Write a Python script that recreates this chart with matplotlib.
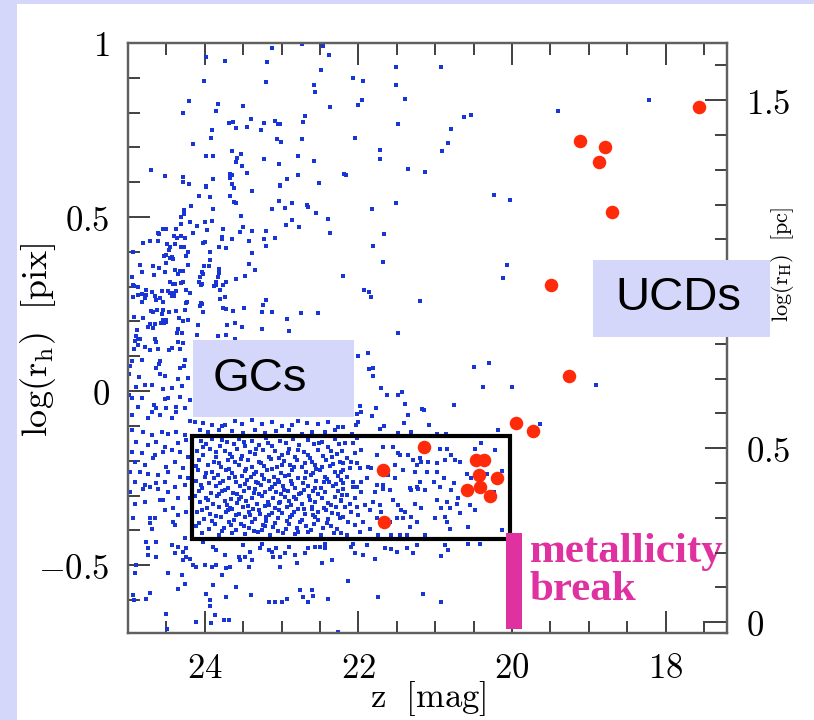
import matplotlib
matplotlib.use("Agg")
import matplotlib.pyplot as plt
from matplotlib.patches import Rectangle
import numpy as np

plt.rcParams['mathtext.fontset'] = 'cm'

# ---------------- data (z [mag], log r_h [pix]) ----------------
blue_upper_left = [
    (23.98, 0.961), (23.74, 0.949), (23.12, 0.986), (22.73, 0.996), (22.46, 0.991), (22.38, 0.965),
    (23.19, 0.945), (24.01, 0.892), (23.20, 0.888), (22.49, 0.923), (22.58, 0.879), (22.56, 0.859),
    (24.20, 0.833), (23.83, 0.825), (23.50, 0.820), (24.29, 0.799), (23.85, 0.804), (22.37, 0.817),
    (22.70, 0.791), (22.72, 0.773), (23.40, 0.781), (23.68, 0.769), (23.63, 0.772), (23.60, 0.757),
    (23.45, 0.758), (23.23, 0.770), (23.27, 0.750), (23.08, 0.776), (23.05, 0.768), (23.02, 0.768),
    (23.90, 0.750), (23.92, 0.726), (24.16, 0.710), (23.06, 0.723), (23.01, 0.716), (22.74, 0.724),
    (23.64, 0.690), (23.53, 0.681), (23.99, 0.675), (23.89, 0.674), (23.58, 0.669), (23.59, 0.658),
    (23.23, 0.667), (22.78, 0.675), (22.58, 0.662), (23.51, 0.647), (23.03, 0.653), (24.70, 0.634),
    (24.52, 0.618), (24.28, 0.615), (24.29, 0.600), (24.20, 0.594), (23.98, 0.588), (23.89, 0.608),
    (23.67, 0.623), (23.65, 0.622), (23.67, 0.612), (23.45, 0.626), (23.64, 0.594), (23.62, 0.584),
    (22.93, 0.609), (22.78, 0.620), (23.02, 0.591), (22.51, 0.597), (22.19, 0.624),
]

blue_upper_right = [
    (21.51, 0.931), (20.93, 0.930), (22.07, 0.900), (21.94, 0.891), (21.51, 0.879), (21.95, 0.835),
    (22.01, 0.821), (21.39, 0.839), (20.62, 0.788), (20.53, 0.793), (19.40, 0.804), (21.49, 0.767),
    (20.80, 0.753), (22.05, 0.726), (20.83, 0.713), (20.91, 0.689), (21.72, 0.693), (21.72, 0.668),
    (21.36, 0.637), (21.13, 0.630), (22.16, 0.622), (18.21, 0.836),
    (21.51, 0.541), (21.82, 0.524), (20.24, 0.564), (20.03, 0.550), (21.67, 0.451), (21.81, 0.417),
    (21.68, 0.372), (22.20, 0.331), (20.06, 0.361), (20.12, 0.325), (21.93, 0.291), (21.86, 0.284),
    (21.84, 0.269), (21.20, 0.260), (21.49, 0.167), (18.90, 0.017), (18.80, -0.463),
]

blue_middle_left = [
    (23.98, 0.586), (23.62, 0.583), (23.02, 0.590), (23.38, 0.576), (24.08, 0.560), (23.93, 0.559),
    (23.67, 0.560), (23.62, 0.542), (23.59, 0.540), (23.04, 0.545), (22.86, 0.540), (22.67, 0.536),
    (22.66, 0.530), (24.18, 0.532), (24.27, 0.521), (23.89, 0.524), (23.12, 0.524), (22.95, 0.527),
    (22.55, 0.511), (24.27, 0.508), (24.31, 0.501), (23.53, 0.503), (22.40, 0.493), (22.87, 0.491),
    (22.94, 0.477), (22.77, 0.471), (22.37, 0.453), (24.19, 0.485), (24.31, 0.481), (24.00, 0.485),
    (23.90, 0.490), (24.10, 0.474), (23.50, 0.472), (24.55, 0.465), (24.50, 0.465), (24.61, 0.455),
    (24.59, 0.450), (24.38, 0.467), (23.97, 0.462), (23.76, 0.467), (23.54, 0.457), (23.39, 0.459),
    (23.20, 0.459), (24.40, 0.446), (24.36, 0.439), (24.31, 0.446), (24.26, 0.439), (24.15, 0.453),
    (23.78, 0.444), (23.77, 0.437), (23.64, 0.438), (23.23, 0.436), (23.08, 0.441), (24.81, 0.425),
    (24.71, 0.430), (24.61, 0.432), (24.49, 0.423), (24.02, 0.425), (24.00, 0.428), (23.42, 0.430),
    (23.20, 0.417), (24.31, 0.413), (24.27, 0.413), (24.45, 0.415), (24.39, 0.423), (23.82, 0.415),
    (23.73, 0.412), (24.94, 0.401), (24.46, 0.404), (24.22, 0.399), (23.93, 0.400), (23.38, 0.396),
    (24.53, 0.389), (24.50, 0.391), (24.24, 0.389), (24.45, 0.383), (24.42, 0.379), (24.43, 0.385),
    (23.93, 0.376), (23.43, 0.366), (24.50, 0.367), (24.84, 0.361), (24.68, 0.359), (24.59, 0.354),
    (24.22, 0.361), (24.01, 0.358), (23.95, 0.358), (23.81, 0.350), (23.35, 0.348), (24.82, 0.341),
    (24.52, 0.343), (24.39, 0.347), (24.32, 0.345), (24.29, 0.345), (24.35, 0.335), (24.66, 0.333),
    (24.04, 0.341), (24.02, 0.336), (23.82, 0.340), (24.95, 0.328), (24.06, 0.328), (23.83, 0.328),
    (23.47, 0.331), (22.20, 0.330), (24.45, 0.313), (24.41, 0.308), (24.39, 0.308), (24.31, 0.310),
    (24.29, 0.312), (24.07, 0.314), (24.03, 0.308), (24.05, 0.304), (23.85, 0.313), (23.86, 0.305),
    (23.88, 0.303), (23.76, 0.305), (23.73, 0.313), (23.60, 0.322), (24.94, 0.306), (24.92, 0.303),
    (24.87, 0.300), (24.77, 0.290), (24.69, 0.286), (24.77, 0.275), (24.56, 0.287), (24.48, 0.287),
    (24.45, 0.281), (24.40, 0.281), (24.43, 0.273), (24.38, 0.287), (24.40, 0.272), (24.25, 0.290),
    (24.19, 0.281), (23.80, 0.290), (24.93, 0.271), (24.87, 0.276), (24.82, 0.279), (24.65, 0.273),
    (24.63, 0.262), (24.58, 0.266), (24.55, 0.255), (24.23, 0.255), (24.25, 0.252), (24.05, 0.254),
    (24.03, 0.250), (24.06, 0.245), (23.80, 0.264), (23.74, 0.270), (23.20, 0.262), (24.82, 0.255),
    (24.78, 0.268), (24.02, 0.227), (23.76, 0.239), (23.73, 0.236), (23.63, 0.231), (23.49, 0.238),
    (23.24, 0.247), (23.25, 0.227), (23.13, 0.227), (22.75, 0.224), (22.53, 0.224), (24.70, 0.230),
    (24.68, 0.227), (24.62, 0.232), (24.55, 0.232), (24.56, 0.221), (24.47, 0.227), (24.38, 0.231),
    (24.92, 0.213), (24.81, 0.209), (24.26, 0.233), (24.55, 0.204), (24.53, 0.201), (24.51, 0.205),
    (24.53, 0.197), (24.50, 0.199), (24.57, 0.195), (24.33, 0.211), (24.28, 0.201), (24.22, 0.205),
    (22.93, 0.208), (24.72, 0.192), (24.65, 0.193), (24.68, 0.182), (24.74, 0.185), (24.09, 0.191),
    (23.71, 0.191), (23.61, 0.195), (23.51, 0.183), (23.25, 0.178), (22.90, 0.173), (24.88, 0.176),
    (24.35, 0.179), (24.36, 0.168), (24.30, 0.167), (24.89, 0.159), (24.87, 0.150), (24.10, 0.161),
    (23.83, 0.159), (23.73, 0.162), (23.61, 0.150), (24.65, 0.150),
]

blue_gc_left = [
    (24.91, 0.144), (24.84, 0.150), (24.87, 0.132), (24.92, 0.121), (24.78, 0.127), (24.64, 0.142),
    (24.71, 0.119), (24.61, 0.121), (24.47, 0.118), (24.43, 0.125), (24.32, 0.121), (24.28, 0.138),
    (24.35, 0.142), (24.95, 0.086), (24.97, 0.073), (24.82, 0.090), (24.60, 0.077), (24.63, 0.065),
    (24.58, 0.087), (24.26, 0.089), (24.27, 0.073), (24.32, 0.065), (24.52, 0.044), (24.86, 0.041),
    (24.99, 0.048), (24.58, 0.048), (24.35, 0.036), (24.22, 0.038), (24.89, 0.011), (24.78, 0.017),
    (24.69, 0.017), (24.54, 0.005), (24.43, 0.008), (24.30, 0.014), (24.99, -0.011), (24.95, -0.021),
    (24.82, -0.021), (24.66, -0.040), (24.63, -0.048), (24.52, -0.023), (24.48, -0.021), (24.32, -0.016),
    (24.19, -0.026), (24.87, -0.045), (24.69, -0.061), (24.50, -0.050), (24.37, -0.059), (24.26, -0.050),
    (24.37, -0.045), (24.95, -0.069), (24.74, -0.078), (24.58, -0.069), (24.43, -0.078), (24.19, -0.086),
    (24.95, -0.112), (24.80, -0.117), (24.69, -0.126), (24.56, -0.117), (24.48, -0.122), (24.37, -0.117),
    (24.26, -0.126), (24.89, -0.146), (24.74, -0.155), (24.63, -0.146), (24.52, -0.160), (24.35, -0.150),
    (24.24, -0.141), (24.95, -0.174), (24.82, -0.179), (24.65, -0.184), (24.54, -0.174), (24.43, -0.169),
    (24.32, -0.176), (24.22, -0.189), (24.91, -0.203), (24.78, -0.213), (24.67, -0.193), (24.50, -0.217),
    (24.39, -0.203), (24.28, -0.222), (24.97, -0.232), (24.84, -0.232), (24.74, -0.237), (24.61, -0.241),
    (24.48, -0.232), (24.32, -0.246), (24.22, -0.251), (24.91, -0.260), (24.78, -0.270), (24.63, -0.265),
    (24.52, -0.260), (24.39, -0.275), (24.26, -0.270),
    (24.98, -0.289), (24.91, -0.323), (24.78, -0.318), (24.80, -0.280), (24.71, -0.275), (24.61, -0.280),
    (24.58, -0.313), (24.54, -0.313), (24.48, -0.289), (24.52, -0.342), (24.41, -0.337), (24.35, -0.356),
    (24.24, -0.347), (24.35, -0.308), (24.19, -0.308), (24.93, -0.366), (24.71, -0.366), (24.65, -0.366),
    (24.71, -0.380), (24.69, -0.395), (24.41, -0.375), (24.39, -0.385), (24.76, -0.433), (24.63, -0.433),
    (24.74, -0.452), (24.74, -0.471), (24.63, -0.476), (24.43, -0.442), (24.35, -0.447), (24.39, -0.466),
    (24.28, -0.462), (24.24, -0.452), (24.24, -0.476), (24.28, -0.486), (24.19, -0.481), (24.26, -0.423),
    (24.89, -0.500), (24.91, -0.524), (24.48, -0.524), (24.30, -0.527), (24.15, -0.500), (24.11, -0.505),
    (24.26, -0.555), (24.35, -0.569), (24.93, -0.586), (24.92, -0.600), (24.76, -0.598), (24.71, -0.581),
    (24.51, -0.639), (24.49, -0.684),
]

blue_gc_above = [
    (24.13, -0.088), (24.02, -0.093), (23.91, -0.098), (23.78, -0.100), (23.74, -0.098), (23.61, -0.086),
    (23.52, -0.096), (23.39, -0.083), (23.26, -0.096), (23.13, -0.090), (23.00, -0.100), (22.87, -0.098),
    (22.78, -0.086), (22.67, -0.093), (22.52, -0.096), (22.39, -0.090), (22.26, -0.102), (24.06, -0.112),
    (23.96, -0.117), (23.82, -0.112), (23.65, -0.115), (23.50, -0.119), (23.35, -0.112), (23.22, -0.119),
    (23.07, -0.115), (22.91, -0.113), (22.74, -0.122), (22.61, -0.117), (22.44, -0.117), (22.31, -0.112),
    (22.01, 0.102), (21.87, 0.109), (21.86, 0.064), (21.81, 0.065), (21.81, 0.042), (21.71, 0.010),
    (21.63, -0.012), (21.48, -0.010), (21.43, -0.002), (21.39, -0.036), (21.98, -0.044), (21.96, -0.060),
    (22.02, -0.065), (21.77, -0.048), (21.82, -0.072), (21.36, -0.070), (21.41, -0.091), (21.17, -0.051),
    (21.15, -0.055), (20.75, -0.041), (20.49, 0.068), (20.30, 0.080), (20.38, 0.011), (20.00, 0.013),
    (19.64, -0.096), (21.08, -0.098), (21.67, -0.100), (22.01, -0.090), (22.03, -0.098), (22.20, -0.103),
    (21.32, -0.117), (21.49, -0.119), (20.97, -0.122), (20.86, -0.124), (22.08, -0.124), (20.18, -0.112),
    (21.72, -0.109),
]

blue_gc_core = [
    (24.05, -0.142), (23.90, -0.137), (23.71, -0.145), (23.55, -0.139), (23.38, -0.143), (23.20, -0.136),
    (23.02, -0.144), (22.85, -0.138), (22.66, -0.141), (22.48, -0.146), (22.30, -0.137),
    (23.98, -0.152), (23.80, -0.158), (23.62, -0.151), (23.47, -0.159), (23.29, -0.154), (23.12, -0.157),
    (22.94, -0.150), (22.77, -0.156), (22.58, -0.153), (22.40, -0.160), (22.25, -0.152),
    (24.10, -0.173), (23.93, -0.167), (23.74, -0.172), (23.58, -0.166), (23.41, -0.174), (23.24, -0.168),
    (23.08, -0.171), (22.90, -0.165), (22.71, -0.175), (22.53, -0.169), (22.36, -0.172),
    (24.02, -0.183), (23.85, -0.189), (23.67, -0.182), (23.52, -0.187), (23.35, -0.181), (23.17, -0.188),
    (23.00, -0.184), (22.83, -0.190), (22.65, -0.183), (22.46, -0.186), (22.28, -0.181),
    (24.07, -0.198), (23.88, -0.203), (23.70, -0.197), (23.61, -0.205), (23.44, -0.199), (23.30, -0.204),
    (23.14, -0.196), (22.97, -0.202), (22.80, -0.198), (22.61, -0.205), (22.42, -0.197), (22.24, -0.203),
    (23.96, -0.213), (23.79, -0.218), (23.55, -0.212), (23.38, -0.219), (23.23, -0.214), (23.06, -0.217),
    (22.89, -0.211), (22.73, -0.219), (22.56, -0.213), (22.37, -0.216),
    (24.09, -0.228), (23.91, -0.233), (23.73, -0.227), (23.64, -0.235), (23.48, -0.229), (23.33, -0.232),
    (23.19, -0.226), (23.01, -0.234), (22.86, -0.228), (22.68, -0.232), (22.50, -0.227), (22.31, -0.233),
    (24.00, -0.247), (23.83, -0.242), (23.68, -0.249), (23.51, -0.243), (23.40, -0.248), (23.26, -0.241),
    (23.10, -0.246), (22.95, -0.243), (22.78, -0.249), (22.62, -0.242), (22.44, -0.247), (22.27, -0.244),
    (24.11, -0.258), (23.94, -0.263), (23.76, -0.257), (23.59, -0.262), (23.45, -0.256), (23.31, -0.264),
    (23.16, -0.259), (23.03, -0.262), (22.88, -0.257), (22.72, -0.263), (22.55, -0.258), (22.38, -0.261),
    (22.22, -0.256),
    (24.03, -0.277), (23.86, -0.272), (23.70, -0.279), (23.54, -0.273), (23.42, -0.278), (23.27, -0.271),
    (23.12, -0.276), (22.98, -0.273), (22.82, -0.279), (22.66, -0.272), (22.49, -0.277), (22.33, -0.274),
    (24.08, -0.288), (23.92, -0.293), (23.78, -0.287), (23.63, -0.292), (23.49, -0.286), (23.36, -0.294),
    (23.21, -0.289), (23.07, -0.291), (22.92, -0.286), (22.75, -0.293), (22.59, -0.288), (22.43, -0.291),
    (22.26, -0.287),
    (23.99, -0.307), (23.84, -0.302), (23.66, -0.309), (23.53, -0.303), (23.39, -0.308), (23.25, -0.301),
    (23.11, -0.306), (22.96, -0.303), (22.81, -0.309), (22.64, -0.302), (22.47, -0.307), (22.30, -0.304),
    (24.06, -0.318), (23.89, -0.323), (23.74, -0.317), (23.58, -0.322), (23.46, -0.316), (23.32, -0.324),
    (23.18, -0.319), (23.04, -0.321), (22.90, -0.316), (22.74, -0.323), (22.57, -0.318), (22.40, -0.321),
    (22.23, -0.317),
    (23.97, -0.337), (23.81, -0.332), (23.65, -0.339), (23.50, -0.333), (23.37, -0.338), (23.22, -0.331),
    (23.09, -0.336), (22.93, -0.333), (22.79, -0.339), (22.61, -0.332), (22.45, -0.337), (22.29, -0.334),
    (24.10, -0.348), (23.93, -0.353), (23.72, -0.347), (23.56, -0.352), (23.43, -0.346), (23.28, -0.354),
    (23.13, -0.349), (22.99, -0.351), (22.84, -0.346), (22.69, -0.353), (22.52, -0.348), (22.35, -0.351),
    (24.01, -0.367), (23.79, -0.362), (23.62, -0.369), (23.47, -0.363), (23.34, -0.368), (23.20, -0.361),
    (23.05, -0.366), (22.89, -0.363), (22.73, -0.369), (22.56, -0.362), (22.39, -0.367), (22.24, -0.364),
    (24.07, -0.378), (23.87, -0.383), (23.69, -0.377), (23.53, -0.382), (23.38, -0.376), (23.24, -0.384),
    (23.08, -0.379), (22.91, -0.381), (22.76, -0.376), (22.58, -0.383), (22.41, -0.378),
    (23.95, -0.397), (23.75, -0.392), (23.59, -0.399), (23.42, -0.393), (23.26, -0.398), (23.11, -0.391),
    (22.94, -0.396), (22.80, -0.393), (22.62, -0.399), (22.46, -0.392), (22.28, -0.397),
    (24.04, -0.408), (23.82, -0.413), (23.64, -0.407), (23.48, -0.412), (23.31, -0.406), (23.15, -0.414),
    (22.98, -0.409), (22.83, -0.411), (22.66, -0.406), (22.49, -0.413), (22.32, -0.408),
    (23.33, -0.262), (23.02, -0.318), (22.71, -0.285), (23.58, -0.295), (22.90, -0.242), (23.46, -0.225),
    (22.60, -0.340), (23.20, -0.372), (23.80, -0.265), (22.45, -0.262), (23.15, -0.280), (22.84, -0.305),
    (23.67, -0.335), (22.55, -0.225), (23.05, -0.255),
]

blue_gc_core_extra = [
    (24.02, -0.161), (23.86, -0.176), (23.77, -0.141), (23.64, -0.188), (23.49, -0.147), (23.33, -0.167),
    (23.18, -0.149), (23.04, -0.193), (22.92, -0.177), (22.79, -0.168), (22.63, -0.192), (22.51, -0.149),
    (22.34, -0.188), (22.21, -0.171), (24.12, -0.214), (23.99, -0.236), (23.81, -0.207), (23.69, -0.224),
    (23.53, -0.196), (23.36, -0.239), (23.27, -0.208), (23.12, -0.223), (22.99, -0.212), (22.84, -0.218),
    (22.70, -0.207), (22.59, -0.236), (22.47, -0.219), (22.33, -0.209), (22.20, -0.226), (24.05, -0.269),
    (23.88, -0.251), (23.74, -0.283), (23.61, -0.247), (23.47, -0.267), (23.35, -0.281), (23.23, -0.252),
    (23.09, -0.268), (22.97, -0.283), (22.86, -0.266), (22.69, -0.249), (22.57, -0.279), (22.41, -0.253),
    (22.29, -0.268), (24.13, -0.301), (23.96, -0.314), (23.82, -0.296), (23.71, -0.328), (23.56, -0.309),
    (23.44, -0.329), (23.30, -0.297), (23.16, -0.328), (23.01, -0.297), (22.88, -0.327), (22.77, -0.297),
    (22.63, -0.314), (22.52, -0.296), (22.36, -0.327), (22.21, -0.299), (24.04, -0.341), (23.85, -0.358),
    (23.70, -0.342), (23.60, -0.357), (23.41, -0.356), (23.30, -0.343), (23.17, -0.357), (23.03, -0.342),
    (22.86, -0.357), (22.71, -0.339), (22.59, -0.356), (22.42, -0.343), (22.27, -0.352), (24.12, -0.389),
    (23.91, -0.372), (23.78, -0.401), (23.66, -0.386), (23.49, -0.389), (23.36, -0.402), (23.21, -0.388),
    (23.05, -0.401), (22.93, -0.372), (22.78, -0.404), (22.68, -0.388), (22.53, -0.371), (22.36, -0.389),
    (22.22, -0.409),
]

blue_gc_right = [
    (22.18, -0.150), (22.07, -0.150), (22.02, -0.136), (21.96, -0.169), (22.04, -0.179), (22.15, -0.193),
    (22.09, -0.203), (22.20, -0.208), (22.02, -0.208), (22.22, -0.232), (22.11, -0.222), (21.98, -0.222),
    (21.87, -0.217), (21.83, -0.222), (22.15, -0.246), (22.07, -0.260), (21.96, -0.260), (21.89, -0.251),
    (22.20, -0.265), (22.02, -0.275), (21.76, -0.184), (21.68, -0.160), (21.55, -0.160), (21.48, -0.179),
    (21.46, -0.184), (21.52, -0.213), (21.42, -0.227), (21.52, -0.251), (21.61, -0.241), (21.68, -0.270),
    (21.76, -0.270), (21.35, -0.184), (21.29, -0.198), (21.24, -0.213), (21.20, -0.193), (21.18, -0.203),
    (21.09, -0.203), (20.98, -0.208), (20.94, -0.165), (20.85, -0.165), (20.87, -0.198), (20.74, -0.198),
    (20.68, -0.203), (20.79, -0.184), (21.26, -0.232), (21.11, -0.232), (20.98, -0.232), (21.20, -0.260),
    (21.02, -0.260), (20.89, -0.251), (20.76, -0.265), (20.59, -0.237), (20.48, -0.165), (20.40, -0.150),
    (20.22, -0.169), (20.13, -0.230), (20.53, -0.251), (20.33, -0.237), (21.24, -0.275), (21.33, -0.278),
    (22.20, -0.280), (22.07, -0.275), (22.15, -0.299), (22.22, -0.313), (22.04, -0.308), (22.11, -0.323),
    (22.17, -0.332), (22.02, -0.332), (22.09, -0.347), (22.20, -0.361), (22.00, -0.356), (22.13, -0.375),
    (22.04, -0.385), (21.94, -0.375), (21.91, -0.327), (21.85, -0.342), (21.81, -0.318), (21.79, -0.289),
    (21.72, -0.327), (21.70, -0.347), (21.68, -0.280), (21.59, -0.284), (21.55, -0.313), (21.48, -0.327),
    (21.44, -0.342), (21.39, -0.347), (21.42, -0.366), (21.50, -0.366), (21.59, -0.375), (21.76, -0.366),
    (21.96, -0.289), (21.31, -0.284), (21.22, -0.280), (21.13, -0.284), (21.26, -0.323), (21.18, -0.337),
    (21.31, -0.361), (21.24, -0.375), (21.33, -0.390), (21.46, -0.414), (21.57, -0.414), (21.74, -0.414),
    (21.85, -0.395), (21.98, -0.404), (22.15, -0.414), (20.94, -0.275), (20.79, -0.284), (20.98, -0.313),
    (20.85, -0.318), (20.92, -0.337), (20.81, -0.337), (20.72, -0.323), (20.70, -0.308), (20.87, -0.361),
    (21.00, -0.366), (20.85, -0.375), (20.68, -0.351), (20.55, -0.327), (20.48, -0.342), (20.57, -0.390),
    (20.81, -0.395), (21.13, -0.414), (21.37, -0.414), (20.13, -0.399), (20.24, -0.289),
]

blue_below = [
    (22.07, -0.438), (22.09, -0.447), (21.89, -0.442), (22.04, -0.466), (21.94, -0.471), (21.79, -0.481),
    (21.65, -0.450), (21.57, -0.454), (21.50, -0.462), (21.37, -0.452), (21.29, -0.466), (21.24, -0.442),
    (20.92, -0.473), (20.87, -0.442), (20.83, -0.457), (20.57, -0.438), (20.42, -0.440), (22.13, -0.546),
    (21.75, -0.592), (21.16, -0.582), (20.92, -0.607),
    (24.02, -0.433), (23.89, -0.447), (23.85, -0.457), (23.74, -0.471), (23.56, -0.476), (23.50, -0.442),
    (23.41, -0.462), (23.39, -0.486), (23.43, -0.505), (23.28, -0.452), (23.26, -0.438), (23.17, -0.457),
    (23.13, -0.462), (23.07, -0.452), (23.11, -0.476), (23.02, -0.476), (22.96, -0.466), (22.91, -0.447),
    (22.83, -0.471), (22.80, -0.495), (22.70, -0.466), (22.65, -0.452), (22.57, -0.447), (22.50, -0.447),
    (22.44, -0.438), (22.44, -0.452), (22.48, -0.495), (22.35, -0.486), (24.00, -0.500), (23.91, -0.505),
    (23.85, -0.500), (23.72, -0.509), (23.67, -0.505), (23.54, -0.486), (23.48, -0.476), (23.02, -0.505),
    (23.78, -0.527), (23.89, -0.557), (23.98, -0.584), (23.93, -0.600), (23.93, -0.617), (23.59, -0.564),
    (23.72, -0.591), (23.40, -0.586), (23.17, -0.607), (23.09, -0.607), (23.00, -0.607), (22.93, -0.596),
    (22.76, -0.572), (22.72, -0.591), (22.66, -0.605), (22.60, -0.572), (22.59, -0.588), (22.40, -0.596),
    (23.87, -0.644), (24.12, -0.664), (23.92, -0.667), (23.75, -0.658), (23.68, -0.658), (22.26, -0.691),
]

red_z = [17.57, 19.12, 18.79, 18.87, 18.70, 19.49, 19.26, 19.95, 19.72, 21.14, 20.47, 20.37,
         20.43, 20.20, 20.59, 20.42, 20.28, 21.68, 21.66]
red_logr = [0.816, 0.718, 0.701, 0.658, 0.514, 0.305, 0.043, -0.092, -0.115, -0.161, -0.198, -0.198,
            -0.241, -0.250, -0.284, -0.276, -0.302, -0.227, -0.376]

x_ticks = [24, 22, 20, 18]
y_ticks = [1.0, 0.5, 0.0, -0.5]
y_tick_labels = ['1', '0.5', '0', '-0.5']
pc_ticks = [0.0, 0.5, 1.0, 1.5]
pc_tick_labels = ['0', '0.5', '1', '1.5']
pix_to_pc = 0.664

gc_box_mag = (24.17, 20.03)
gc_box_logr = (-0.425, -0.129)
break_mag = (20.08, 19.87)
break_logr = (-0.684, -0.408)

# ---------------- figure ----------------
W, H = 814, 720
lav = '#d5d7fa'
fig = plt.figure(figsize=(W / 100, H / 100), dpi=100, facecolor=lav)
fig.add_artist(Rectangle((17 / W, 0), (W - 17) / W, (H - 4) / H, transform=fig.transFigure,
                         facecolor='white', edgecolor='none', zorder=-5))

ax = fig.add_axes([128 / W, 1 - 633 / H, (727 - 128) / W, (633 - 43) / H])
ax2 = ax.twinx()

ax.set_xlim(25.0, 17.2)
ax.set_ylim(-0.695, 1.0)
ax2.set_ylim(-0.695 + pix_to_pc, 1.0 + pix_to_pc)

blue = '#1835d8'
for grp in [blue_upper_left, blue_upper_right, blue_middle_left, blue_gc_left,
            blue_gc_above, blue_gc_core, blue_gc_core_extra, blue_gc_right, blue_below]:
    arr = np.array(grp)
    ax.scatter(arr[:, 0], arr[:, 1], s=6, marker='s', color=blue, linewidths=0, zorder=2)

ax.scatter(red_z, red_logr, s=95, color='#ff2a0a', linewidths=0, zorder=3)

ax.add_patch(Rectangle((gc_box_mag[0], gc_box_logr[0]), gc_box_mag[1] - gc_box_mag[0],
                       gc_box_logr[1] - gc_box_logr[0], fill=False, edgecolor='black',
                       linewidth=3.0, zorder=4))
magenta = '#e031a0'
ax.add_patch(Rectangle((break_mag[0], break_logr[0]), break_mag[1] - break_mag[0],
                       break_logr[1] - break_logr[0], facecolor=magenta, edgecolor='none',
                       zorder=4))

ax.text(19.77, -0.491, 'metallicity', family='Liberation Serif', weight='bold', fontsize=31,
        color=magenta, ha='left', va='baseline', zorder=5)
ax.text(19.77, -0.601, 'break', family='Liberation Serif', weight='bold', fontsize=31,
        color=magenta, ha='left', va='baseline', zorder=5)

spine_c = '#606060'
for a in (ax, ax2):
    for s in a.spines.values():
        s.set_color(spine_c)
        s.set_linewidth(1.6)

ax.set_xticks(x_ticks)
ax.set_xticklabels(['$%d$' % t for t in x_ticks])
ax.set_xticks(np.arange(17.5, 25.01, 0.5), minor=True)
ax.set_yticks(y_ticks)
ax.set_yticklabels(['$%s$' % t for t in y_tick_labels])
ax.set_yticks(np.arange(-0.6, 1.0, 0.1), minor=True)
ax.tick_params(which='both', direction='in', top=True, bottom=True, left=True, right=False,
               color='#404040', width=1.4)
ax.tick_params(which='major', length=16, labelsize=25, pad=13)
ax.tick_params(which='minor', length=8.5)

ax2.set_yticks(pc_ticks)
ax2.set_yticklabels(['$%s$' % t for t in pc_tick_labels])
ax2.set_yticks(np.arange(0.0, 1.65, 0.1), minor=True)
ax2.tick_params(which='both', direction='in', right=True, left=False, color='#404040', width=1.4)
ax2.tick_params(which='major', length=16, labelsize=25, pad=14)
ax2.tick_params(which='minor', length=8.5)

fig.text(428 / W, 1 - 699 / H, r'$\mathrm{z\ \ [mag]}$', fontsize=25, ha='center', va='center')
fig.text(38 / W, 1 - 340 / H, r'$\mathrm{log(r_h)\ \ [pix]}$', fontsize=26, ha='center',
         va='center', rotation=90)
fig.text(782 / W, 1 - 264 / H, r'$\mathrm{log(r_H)\ \ [pc]}$', fontsize=16, ha='center',
         va='center', rotation=90)

# label boxes
fig.add_artist(Rectangle((193 / W, 1 - 417 / H), (354 - 193) / W, (417 - 340) / H,
                         transform=fig.transFigure, facecolor=lav, edgecolor='none', zorder=6))
fig.text(213 / W, 1 - 379 / H, 'GCs', family='Liberation Sans', fontsize=34, ha='left',
         va='center', zorder=7)
fig.add_artist(Rectangle((593 / W, 1 - 337 / H), (770 - 593) / W, (337 - 260) / H,
                         transform=fig.transFigure, facecolor=lav, edgecolor='none', zorder=6))
fig.text(615 / W, 1 - 298 / H, 'UCDs', family='Liberation Sans', fontsize=34, ha='left',
         va='center', zorder=7)

fig.savefig('out.png', dpi=100, facecolor=lav)
